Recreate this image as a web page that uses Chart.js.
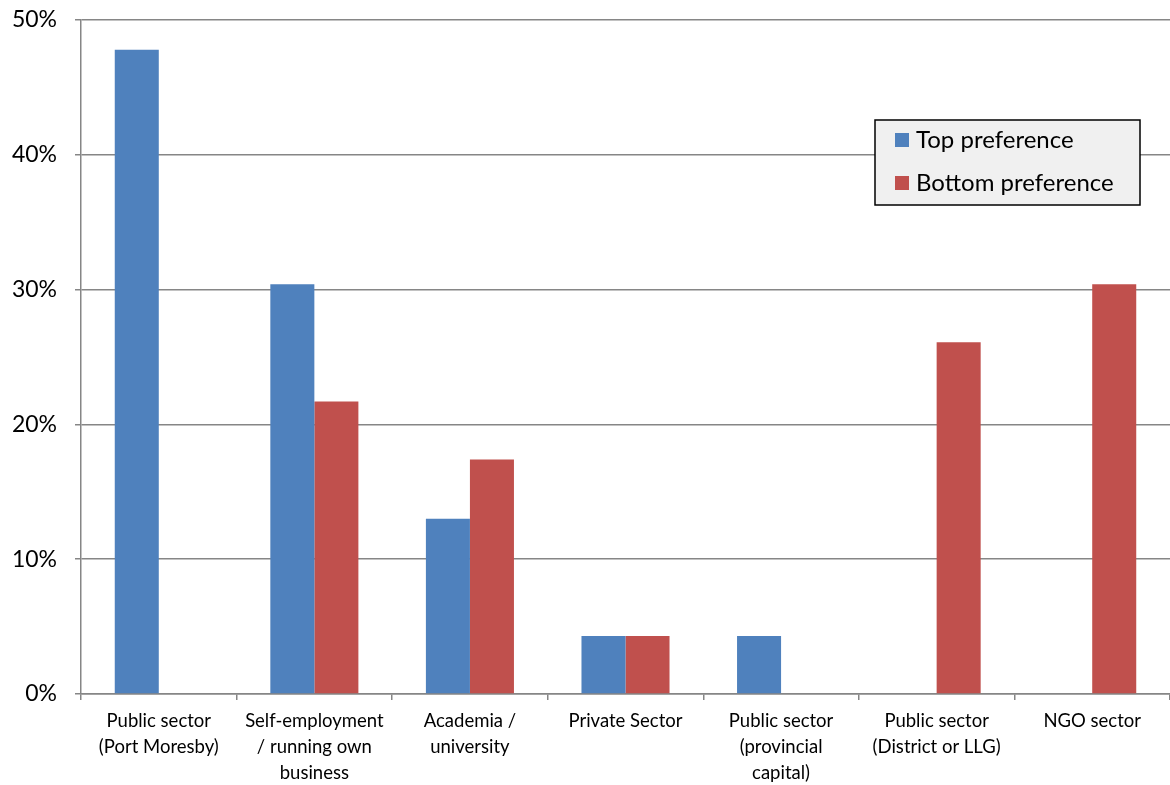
<!DOCTYPE html>
<html>
<head>
<meta charset="utf-8">
<script src="https://cdn.jsdelivr.net/npm/chart.js@4/dist/chart.umd.min.js"></script>
<style>
  html, body { margin: 0; padding: 0; background: #fff; }
  #wrap { width: 1170px; height: 785px; position: relative; }
</style>
</head>
<body>
<div id="wrap"><canvas id="chart-pref"></canvas></div>
<script>
// Sector categories (multi-line labels)
const categories = [
  ['Public sector', '(Port Moresby)'],
  ['Self-employment', '/ running own', 'business'],
  ['Academia /', 'university'],
  ['Private Sector'],
  ['Public sector', '(provincial', 'capital)'],
  ['Public sector', '(District or LLG)'],
  ['NGO sector']
];

// Share of respondents, in percent
const topPreference = [47.8, 30.4, 13.0, 4.3, 4.3, 0, 0];
const bottomPreference = [0, 21.7, 17.4, 4.3, 0, 26.1, 30.4];

const seriesNames = ['Top preference', 'Bottom preference'];
const seriesColors = ['#4f81bd', '#c0504d'];

const yTicks = [0, 10, 20, 30, 40, 50];

const FONT = 'Lato, "Open Sans", sans-serif';
const GRID = '#868686';

// Legend drawn as a boxed panel inside the plot area
const boxLegend = {
  id: 'boxLegend',
  afterDraw(chart) {
    const ctx = chart.ctx;
    const x = 875, y = 120, w = 265, h = 85;
    ctx.save();
    ctx.fillStyle = '#f0f0f0';
    ctx.fillRect(x, y, w, h);
    ctx.strokeStyle = '#000';
    ctx.lineWidth = 1.5;
    ctx.strokeRect(x, y, w, h);
    ctx.font = '24px ' + FONT;
    ctx.textBaseline = 'middle';
    chart.data.datasets.forEach((ds, i) => {
      const cy = y + 20 + i * 43;
      ctx.fillStyle = ds.backgroundColor;
      ctx.fillRect(x + 20, cy - 7, 14, 14);
      ctx.fillStyle = '#000';
      ctx.fillText(ds.label, x + 41, cy);
    });
    ctx.restore();
  }
};

new Chart(document.getElementById('chart-pref'), {
  type: 'bar',
  data: {
    labels: categories,
    datasets: [
      { label: seriesNames[0], data: topPreference, backgroundColor: seriesColors[0] },
      { label: seriesNames[1], data: bottomPreference, backgroundColor: seriesColors[1] }
    ]
  },
  options: {
    responsive: true,
    maintainAspectRatio: false,
    animation: false,
    layout: { padding: { top: 20, right: 0, left: 0, bottom: 0 } },
    datasets: {
      bar: { categoryPercentage: 0.566, barPercentage: 1.0, borderWidth: 0 }
    },
    plugins: {
      legend: { display: false },
      tooltip: { enabled: false }
    },
    scales: {
      x: {
        grid: {
          offset: true,
          drawOnChartArea: false,
          drawTicks: true,
          tickLength: 6,
          color: GRID,
          lineWidth: 1.5
        },
        border: { color: GRID, width: 1.5 },
        ticks: {
          color: '#000',
          font: { family: FONT, size: 18.5, lineHeight: 1.4 },
          padding: 8,
          maxRotation: 0,
          autoSkip: false
        },
        afterFit(scale) {
          scale.height = 91;
          scale.paddingLeft = 0;
          scale.paddingRight = 0;
        }
      },
      y: {
        min: 0,
        max: 50,
        afterBuildTicks(scale) { scale.ticks = yTicks.map(v => ({ value: v })); },
        grid: { color: GRID, lineWidth: 1.5, tickLength: 6 },
        border: { color: GRID, width: 1.5 },
        ticks: {
          color: '#000',
          font: { family: FONT, size: 23 },
          padding: 18,
          callback: v => v + '%'
        },
        afterFit(scale) {
          scale.width = 81;
          scale.paddingTop = 0;
          scale.paddingBottom = 0;
        }
      }
    }
  },
  plugins: [boxLegend]
});
</script>
</body>
</html>
